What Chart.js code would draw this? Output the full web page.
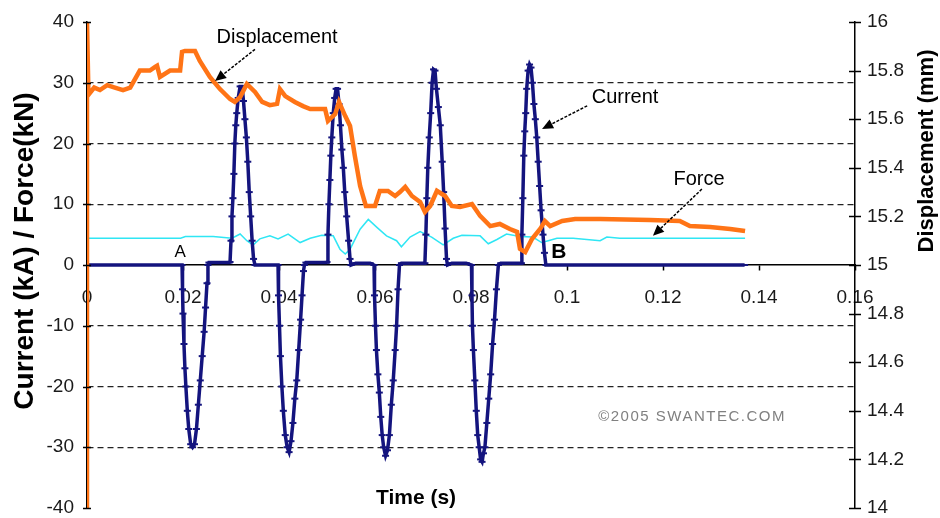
<!DOCTYPE html>
<html><head><meta charset="utf-8">
<script src="https://cdn.jsdelivr.net/npm/chart.js@4.4.1/dist/chart.umd.min.js"></script>
<style>html,body{margin:0;padding:0;background:#fff;}#wrap{width:940px;height:518px;}</style>
</head><body><div id="wrap"><canvas id="c" width="940" height="518"></canvas></div>
<script>
// ---------- axis ticks ----------
const xTicks = [0, 0.02, 0.04, 0.06, 0.08, 0.1, 0.12, 0.14, 0.16];
const xTickLabels = ['0', '0.02', '0.04', '0.06', '0.08', '0.1', '0.12', '0.14', '0.16'];
const yLeftTicks = [-40, -30, -20, -10, 0, 10, 20, 30, 40];
const yLeftLabels = ['-40', '-30', '-20', '-10', '0', '10', '20', '30', '40'];
const yRightTicks = [14, 14.2, 14.4, 14.6, 14.8, 15, 15.2, 15.4, 15.6, 15.8, 16];
const yRightLabels = ['14', '14.2', '14.4', '14.6', '14.8', '15', '15.2', '15.4', '15.6', '15.8', '16'];
const dashedGridValues = [-30, -20, -10, 10, 20, 30];

// ---------- Current (kA) ----------
const curTime = [
  0, 0.002, 0.004, 0.006, 0.008, 0.010, 0.012, 0.014, 0.016, 0.018,
  0.0198, 0.0199, 0.0200, 0.0202, 0.0204, 0.0206, 0.0209, 0.0212, 0.0216, 0.0220, 0.0224, 0.0228, 0.0232, 0.0236, 0.0240, 0.0244, 0.0247, 0.0250, 0.0252,
  0.0254, 0.0264, 0.0274, 0.0284, 0.0296,
  0.0298, 0.0300, 0.0302, 0.0304, 0.0306, 0.0308, 0.0310, 0.0312, 0.0315, 0.0319, 0.0323, 0.0326, 0.0329, 0.0332, 0.0335, 0.0338, 0.0341, 0.0344, 0.0347, 0.0350,
  0.0360, 0.0370, 0.0380, 0.0390,
  0.0398, 0.0399, 0.0401, 0.0403, 0.0406, 0.0409, 0.0413, 0.0417, 0.0421, 0.0425, 0.0429, 0.0433, 0.0437, 0.0441, 0.0445, 0.0448, 0.0451, 0.0453,
  0.0456, 0.0466, 0.0476, 0.0486, 0.0498,
  0.0500, 0.0502, 0.0504, 0.0506, 0.0508, 0.0510, 0.0513, 0.0516, 0.0519, 0.0522, 0.0525, 0.0528, 0.0531, 0.0534, 0.0537, 0.0541, 0.0545, 0.0548, 0.0550,
  0.0560, 0.0570, 0.0580, 0.0590,
  0.0598, 0.0599, 0.0601, 0.0603, 0.0606, 0.0609, 0.0612, 0.0615, 0.0618, 0.0622, 0.0626, 0.0630, 0.0634, 0.0638, 0.0642, 0.0645, 0.0648, 0.0651,
  0.0655, 0.0665, 0.0675, 0.0685, 0.0695,
  0.0704, 0.0706, 0.0708, 0.0710, 0.0713, 0.0716, 0.0719, 0.0722, 0.0725, 0.0728, 0.0732, 0.0736, 0.0740, 0.0743, 0.0746, 0.0749, 0.0751,
  0.0760, 0.0770, 0.0780, 0.0790,
  0.0801, 0.0802, 0.0803, 0.0805, 0.0808, 0.0811, 0.0814, 0.0817, 0.0820, 0.0823, 0.0826, 0.0829, 0.0833, 0.0837, 0.0841, 0.0845, 0.0849, 0.0853, 0.0857,
  0.0862, 0.0872, 0.0882, 0.0892, 0.0900,
  0.0905, 0.0906, 0.0908, 0.0910, 0.0912, 0.0914, 0.0916, 0.0919, 0.0922, 0.0925, 0.0928, 0.0931, 0.0934, 0.0937, 0.0940, 0.0943, 0.0946, 0.0950, 0.0953, 0.0956,
  0.098, 0.100, 0.102, 0.104, 0.106, 0.108, 0.110, 0.112, 0.114, 0.116, 0.118, 0.120, 0.122, 0.124, 0.126, 0.128, 0.130, 0.132, 0.134, 0.137
];
const curKA = [
  0, 0, 0, 0, 0, 0, 0, 0, 0, 0,
  0, -4, -8, -13, -17, -20, -24, -27, -29.5, -30, -29.5, -27, -23, -19, -15, -11, -7, -3, 0,
  0.4, 0.4, 0.4, 0.4, 0.4,
  0.5, 4, 8, 11, 15, 20, 23, 25, 27.5, 29.4, 29.4, 27, 24, 21, 17, 12, 8, 4, 1, 0,
  0, 0, 0, 0,
  0, -5, -10, -15, -20, -24, -28, -30, -30.8, -29, -26, -22, -19, -14, -9, -5, -1, 0,
  0.4, 0.4, 0.4, 0.4, 0.4,
  0.5, 5, 10, 14, 18, 21, 25, 27.5, 29, 29, 26.5, 23, 19, 16, 12, 8, 4, 1, 0,
  0.3, 0.3, 0.3, 0.3,
  0, -5, -10, -14, -18, -21, -25, -28, -30, -31.4, -30.5, -28, -23, -19, -14, -10, -4, 0,
  0.3, 0.3, 0.3, 0.3, 0.3,
  0.3, 5, 11, 16, 21, 25, 30, 32.2, 32, 29, 26, 23, 17, 12, 6, 1, 0,
  0.3, 0.3, 0.3, 0.3,
  0, -5, -10, -14, -19, -24, -28, -30, -32, -32.4, -31, -30, -26, -22, -18, -13, -9, -4, 0,
  0.3, 0.3, 0.3, 0.3, 0.3,
  0.3, 5, 11, 18, 22, 25, 29, 32, 33, 32.5, 30, 26.5, 24, 21, 17, 13, 9, 5, 2, 0,
  0, 0, 0, 0, 0, 0, 0, 0, 0, 0, 0, 0, 0, 0, 0, 0, 0, 0, 0, 0
];

// ---------- Force (kN) ----------
const forceTime = [0, 0.010, 0.0195, 0.0205, 0.0263, 0.0302, 0.0319, 0.0333, 0.0346, 0.0360, 0.0381, 0.0398, 0.0419, 0.0444, 0.0465, 0.0489, 0.0513, 0.0527, 0.0538, 0.0548, 0.0569, 0.0586, 0.0604, 0.0624, 0.0645, 0.0655, 0.0673, 0.0694, 0.0718, 0.0742, 0.0763, 0.0781, 0.0819, 0.0836, 0.0854, 0.0874, 0.0902, 0.0929, 0.0947, 0.0961, 0.0979, 0.1013, 0.1069, 0.1083, 0.1110, 0.1200, 0.1300, 0.1371];
const forceKN = [4.4, 4.4, 4.4, 4.7, 4.7, 4.4, 5.1, 4.0, 3.3, 4.3, 4.8, 4.3, 5.1, 3.7, 4.4, 4.9, 4.8, 2.6, 1.8, 2.6, 5.9, 7.5, 6.2, 4.8, 4.0, 3.0, 4.6, 5.5, 4.6, 3.3, 4.4, 4.9, 4.8, 3.5, 4.2, 5.1, 4.7, 4.6, 3.7, 4.0, 4.4, 4.4, 4.0, 4.6, 4.4, 4.4, 4.4, 4.4];

// ---------- Displacement (mm) ----------
const dispTime = [0, 0, 0.0003, 0.0015, 0.0027, 0.0042, 0.0058, 0.0075, 0.009, 0.011, 0.0131, 0.0142, 0.0146, 0.0152, 0.0173, 0.0194, 0.0198, 0.0204, 0.0225, 0.0235, 0.0256, 0.0277, 0.0298, 0.0308, 0.0319, 0.0333, 0.035, 0.0365, 0.0381, 0.0396, 0.0402, 0.0413, 0.0433, 0.045, 0.0465, 0.0496, 0.0502, 0.0517, 0.0525, 0.0538, 0.0548, 0.0558, 0.0569, 0.0581, 0.06, 0.061, 0.0627, 0.0642, 0.0652, 0.0663, 0.0677, 0.0694, 0.0704, 0.0715, 0.0729, 0.0746, 0.076, 0.0777, 0.0802, 0.0819, 0.084, 0.086, 0.0881, 0.0896, 0.0902, 0.0913, 0.0927, 0.0944, 0.0954, 0.0965, 0.099, 0.1017, 0.1069, 0.1173, 0.1235, 0.1256, 0.1298, 0.134, 0.1371];
const dispMM = [14.0, 16.0, 15.70, 15.73, 15.72, 15.74, 15.73, 15.72, 15.73, 15.80, 15.80, 15.815, 15.82, 15.774, 15.80, 15.80, 15.877, 15.881, 15.881, 15.84, 15.774, 15.724, 15.683, 15.671, 15.691, 15.745, 15.712, 15.671, 15.658, 15.663, 15.724, 15.695, 15.671, 15.654, 15.642, 15.642, 15.593, 15.621, 15.671, 15.613, 15.572, 15.449, 15.325, 15.243, 15.243, 15.305, 15.305, 15.284, 15.300, 15.321, 15.284, 15.259, 15.218, 15.243, 15.305, 15.284, 15.243, 15.239, 15.251, 15.202, 15.160, 15.169, 15.148, 15.136, 15.066, 15.053, 15.107, 15.148, 15.181, 15.160, 15.181, 15.189, 15.189, 15.185, 15.181, 15.160, 15.156, 15.148, 15.140];

const pairs = (xs, ys) => xs.map((t, i) => ({x: t, y: ys[i]}));

const NAVY = '#14147e', ORANGE = '#ff7416', CYAN = '#2fe6f4';
const FONT = '"Liberation Sans", Arial, sans-serif';

function arrow(ctx, x1, y1, x2, y2) {
  const ang = Math.atan2(y2 - y1, x2 - x1);
  const hl = 11, hw = 5;
  const bx = x2 - hl * Math.cos(ang), by = y2 - hl * Math.sin(ang);
  ctx.save();
  ctx.strokeStyle = '#000'; ctx.lineWidth = 1.5; ctx.setLineDash([3, 1.5]);
  ctx.beginPath(); ctx.moveTo(x1, y1); ctx.lineTo(bx, by); ctx.stroke();
  ctx.setLineDash([]);
  ctx.fillStyle = '#000';
  ctx.beginPath();
  ctx.moveTo(x2, y2);
  ctx.lineTo(bx + hw * Math.sin(ang), by - hw * Math.cos(ang));
  ctx.lineTo(bx - hw * Math.sin(ang), by + hw * Math.cos(ang));
  ctx.closePath(); ctx.fill();
  ctx.restore();
}

const decor = {
  id: 'decor',
  beforeDraw(chart) {
    const c = chart.ctx; c.save(); c.fillStyle = '#fff'; c.fillRect(0, 0, chart.width, chart.height); c.restore();
  },
  afterDraw(chart) {
    const {ctx, chartArea, scales: {x, y, y2}} = chart;
    const P = (t, v) => [x.getPixelForValue(t), y.getPixelForValue(v)];
    ctx.save();
    ctx.strokeStyle = '#000'; ctx.lineWidth = 1.5;
    yLeftTicks.forEach(v => {
      const py = Math.round(y.getPixelForValue(v)) + 0.5;
      ctx.beginPath(); ctx.moveTo(chartArea.left - 4, py); ctx.lineTo(chartArea.left + 4, py); ctx.stroke();
    });
    yRightTicks.forEach(v => {
      const py = Math.round(y2.getPixelForValue(v)) + 0.5;
      ctx.beginPath(); ctx.moveTo(chartArea.right - 6, py); ctx.lineTo(chartArea.right + 6, py); ctx.stroke();
    });
    ctx.fillStyle = '#000'; ctx.textBaseline = 'middle'; ctx.textAlign = 'center';
    ctx.font = '20px ' + FONT;
    let p = P(0.0396, 37.5); ctx.fillText('Displacement', p[0], p[1]);
    p = P(0.1121, 27.6); ctx.fillText('Current', p[0], p[1]);
    p = P(0.1275, 14.1); ctx.fillText('Force', p[0], p[1]);
    ctx.font = '17px ' + FONT;
    p = P(0.0194, 2.1); ctx.fillText('A', p[0], p[1]);
    ctx.font = 'bold 21px ' + FONT;
    p = P(0.0983, 2.1); ctx.fillText('B', p[0], p[1]);
    let a = P(0.035, 35.5), b = P(0.02667, 30.3); arrow(ctx, a[0], a[1], b[0], b[1]);
    a = P(0.1042, 26.2); b = P(0.0948, 22.4); arrow(ctx, a[0], a[1], b[0], b[1]);
    a = P(0.1281, 12.5); b = P(0.1179, 4.8); arrow(ctx, a[0], a[1], b[0], b[1]);
    ctx.fillStyle = '#808080'; ctx.textAlign = 'left'; ctx.font = '15px ' + FONT;
    try { ctx.letterSpacing = '1.5px'; } catch (e) {}
    p = P(0.1065, -25); ctx.fillText('\u00A92005 SWANTEC.COM', p[0], p[1]);
    try { ctx.letterSpacing = '0px'; } catch (e) {}
    ctx.fillStyle = '#000'; ctx.textAlign = 'center';
    ctx.font = 'bold 21px ' + FONT;
    ctx.fillText('Time (s)', 416, 498);
    ctx.save(); ctx.translate(25, 251); ctx.rotate(-Math.PI / 2);
    ctx.font = 'bold 28px ' + FONT; ctx.fillText('Current (kA) / Force(kN)', 0, 0); ctx.restore();
    ctx.save(); ctx.translate(927, 151); ctx.rotate(-Math.PI / 2);
    ctx.font = 'bold 22px ' + FONT; ctx.fillText('Displacement (mm)', 0, 0); ctx.restore();
    ctx.restore();
  }
};

const tickFont = {family: FONT, size: 19};
new Chart(document.getElementById('c'), {
  type: 'line',
  data: {
    datasets: [
      {label: 'Displacement', data: pairs(dispTime, dispMM), yAxisID: 'y2', borderColor: ORANGE, borderWidth: 4.5, pointRadius: 0, tension: 0, order: 1, borderJoinStyle: 'miter'},
      {label: 'Current', data: pairs(curTime, curKA), yAxisID: 'y', borderColor: NAVY, borderWidth: 3.5, pointStyle: 'line', pointRadius: 3.5, pointBorderWidth: 2, pointBorderColor: NAVY, pointBackgroundColor: NAVY, tension: 0, order: 2},
      {label: 'Force', data: pairs(forceTime, forceKN), yAxisID: 'y', borderColor: CYAN, borderWidth: 1.5, pointRadius: 0, tension: 0, order: 3}
    ]
  },
  options: {
    responsive: false, animation: false, events: [],
    layout: {padding: {top: 22, bottom: 10, left: 0, right: 0}},
    plugins: {legend: {display: false}, tooltip: {enabled: false}, title: {display: false}},
    scales: {
      x: {
        type: 'linear', min: 0, max: 0.16, position: {y: 0},
        afterBuildTicks: s => { s.ticks = xTicks.map(v => ({value: v})); },
        afterFit: s => { s.paddingLeft = 0; s.paddingRight = 0; },
        ticks: {font: tickFont, color: '#1a1a1a', padding: 16, maxRotation: 0, autoSkip: false,
          callback: (v) => { const i = xTicks.indexOf(v); return i >= 0 ? xTickLabels[i] : ''; }},
        grid: {drawOnChartArea: false, drawTicks: true, tickLength: 5, color: '#000', tickColor: '#000', tickWidth: 1.5},
        border: {display: true, color: '#000', width: 1.5}
      },
      y: {
        type: 'linear', position: 'left', min: -40, max: 40,
        afterBuildTicks: s => { s.ticks = yLeftTicks.map(v => ({value: v})); },
        afterFit: s => { s.width = 87; s.paddingTop = 0; s.paddingBottom = 0; },
        ticks: {font: tickFont, color: '#1a1a1a', padding: 13, autoSkip: false,
          callback: (v) => { const i = yLeftTicks.indexOf(v); return i >= 0 ? yLeftLabels[i] : ''; }},
        grid: {drawTicks: false, lineWidth: 1.3,
          color: c => (c.tick && dashedGridValues.includes(c.tick.value)) ? '#222' : 'rgba(0,0,0,0)'},
        border: {display: true, color: '#000', width: 1.5, dash: [6, 4]}
      },
      y2: {
        type: 'linear', position: 'right', min: 14, max: 16,
        afterBuildTicks: s => { s.ticks = yRightTicks.map(v => ({value: v})); },
        afterFit: s => { s.width = 85; s.paddingTop = 0; s.paddingBottom = 0; },
        ticks: {font: tickFont, color: '#1a1a1a', padding: 12, autoSkip: false,
          callback: (v) => { const i = yRightTicks.findIndex(t => Math.abs(t - v) < 1e-9); return i >= 0 ? yRightLabels[i] : ''; }},
        grid: {drawOnChartArea: false, drawTicks: false},
        border: {display: true, color: '#000', width: 1.5}
      }
    }
  },
  plugins: [decor]
});
</script>
</body></html>
